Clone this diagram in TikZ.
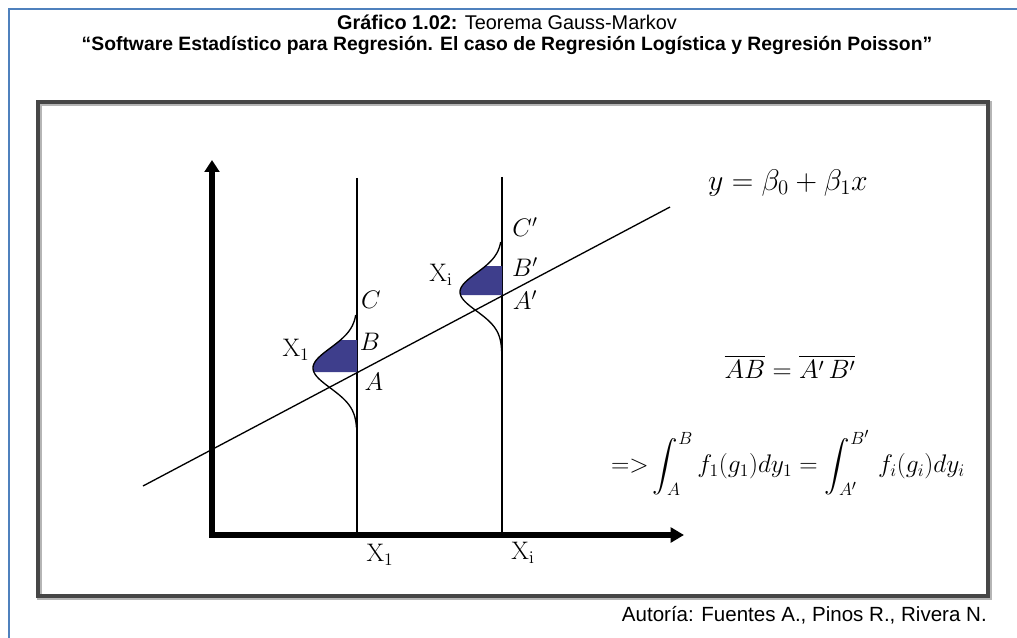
\documentclass[tikz,border=0pt]{standalone}
\usepackage{amsmath}
\usepackage{exscale}
\usepackage[no-math]{fontspec}
\setmainfont{Liberation Sans}
\usetikzlibrary{arrows.meta}
\definecolor{framebl}{RGB}{79,129,189}
\definecolor{boxgray}{RGB}{70,70,70}
\definecolor{shadeblue}{RGB}{62,62,140}
\tikzset{
  axisline/.style={line width=3.8pt, line join=miter},
  vline/.style={line width=1.1pt},
  regline/.style={line width=1pt},
  bell/.style={line width=1pt},
  mlab/.style={font=\fontsize{17.28}{20}\selectfont, inner sep=0pt, scale=1.1},
  eq/.style={font=\fontsize{20.74}{24}\selectfont, inner sep=0pt},
  ttl/.style={font=\fontsize{14.9}{17}\selectfont, inner sep=0pt},
}
\begin{document}
\begin{tikzpicture}[x=0.75pt,y=-0.75pt]
\useasboundingbox (0,0) rectangle (1017,638);
% outer frame
\draw[framebl, line width=0.9pt] (9,650) -- (9,9) -- (1030,9);
% titles
\node[ttl] (title) at (507,22) {\textbf{Gráfico 1.02:} Teorema Gauss-Markov};
\node[ttl, font=\fontsize{14.5}{17}\selectfont\bfseries] (subtitle) at (507,45) {“Software Estadístico para Regresión. El caso de Regresión Logística y Regresión Poisson”};
% inner box
\draw[boxgray!40, line width=4pt] (39.5,103.5) rectangle (989.5,597.5);
\draw[boxgray, line width=2.4pt] (38,102) rectangle (988,596);
% author
\node[ttl, font=\fontsize{15.4}{18}\selectfont, anchor=east] (author) at (987,615) {Autoría: Fuentes A., Pinos R., Rivera N.};
% axes
\coordinate (O) at (212,535);
\coordinate (Xend) at (684,535);
\coordinate (Yend) at (212,160);
\draw[axisline, {Triangle[length=9pt,width=11pt]}-{Triangle[length=10pt,width=11pt]}] (Yend) -- (O) -- (Xend);
% vertical lines
\coordinate (v1t) at (357,178);
\coordinate (v1b) at (357,535);
\coordinate (v2t) at (502,177);
\coordinate (v2b) at (502,535);
\draw[vline] (v1t) -- (v1b);
\draw[vline] (v2t) -- (v2b);
% regression line
\coordinate (r1) at (143,486);
\coordinate (r2) at (670,207);
\draw[regline] (r1) -- (r2);
% bell 1
\fill[shadeblue] (357,340) -- plot[domain=340:372, samples=30] ({357-44*exp(-((\x-368)/20)*((\x-368)/20)/2)}, \x) -- (357,372) -- cycle;
\draw[bell] plot[domain=315:428, samples=80] ({357-44*exp(-((\x-368)/20)*((\x-368)/20)/2)}, \x);
% bell 2
\fill[shadeblue] (502,266) -- plot[domain=266:295, samples=30] ({502-42*exp(-((\x-292)/19)*((\x-292)/19)/2)}, \x) -- (502,295) -- cycle;
\draw[bell] plot[domain=242:352, samples=80] ({502-42*exp(-((\x-292)/19)*((\x-292)/19)/2)}, \x);
% point labels
\node[mlab] (C) at (371,300) {$C$};
\node[mlab] (B) at (370,342) {$B$};
\node[mlab] (A) at (374,382) {$A$};
\node[mlab] (X1a) at (296,350) {$\mathrm{X}_1$};
\node[mlab] (Cp) at (525,227) {$C'$};
\node[mlab] (Bp) at (525,267) {$B'$};
\node[mlab] (Ap) at (525,300) {$A'$};
\node[mlab] (Xia) at (441,275) {$\mathrm{X}_\mathrm{i}$};
\node[mlab] (X1b) at (380,555) {$\mathrm{X}_1$};
\node[mlab] (Xib) at (523,553) {$\mathrm{X}_\mathrm{i}$};
% equations
\node[eq, scale=1.08] (model) at (788,183) {$y=\beta_0+\beta_1x$};
\node[eq, scale=0.96] (eqAB) at (790,367) {$\overline{AB}=\overline{A'\,B'}$};
\node[eq, scale=0.92] (integ) at (788,463) {$\displaystyle {=}{>}\int_A^B f_1(g_1)dy_1=\int_{A'}^{B'}\, f_i(g_i)dy_i$};
\end{tikzpicture}
\end{document}
